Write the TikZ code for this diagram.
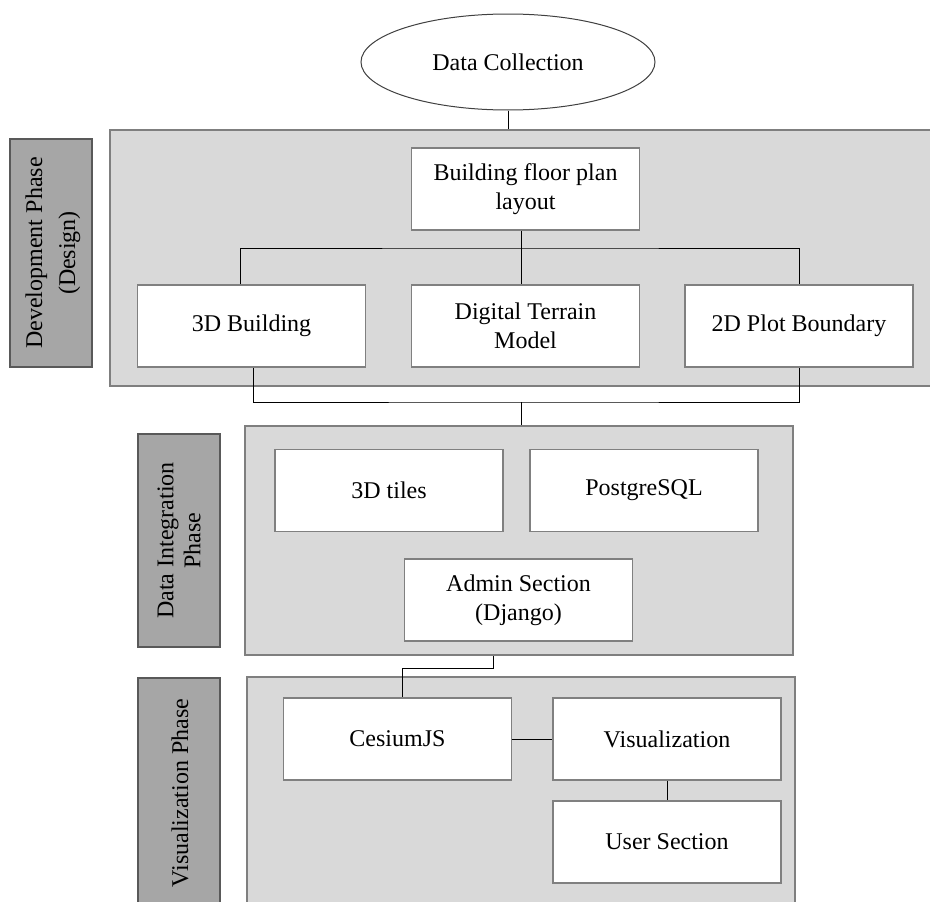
\documentclass[tikz,border=0pt]{standalone}
\usepackage{fontspec}
\setmainfont{Liberation Serif}
\usetikzlibrary{shapes.geometric}
\definecolor{panelfill}{HTML}{D9D9D9}
\definecolor{panelline}{HTML}{7F7F7F}
\definecolor{labfill}{HTML}{A6A6A6}
\definecolor{labline}{HTML}{595959}
\definecolor{boxline}{HTML}{808080}
\tikzset{
  panel/.style={draw=panelline, fill=panelfill, line width=2pt, inner sep=0pt},
  phaselab/.style={draw=labline, fill=labfill, line width=1.5pt, inner sep=0pt},
  labtext/.style={rotate=90, align=center, font=\fontsize{24}{33}\selectfont, inner sep=0pt},
  box/.style={draw=boxline, fill=white, line width=1.5pt, align=center,
    minimum width=228pt, minimum height=82pt, inner sep=0pt,
    font=\fontsize{24}{29}\selectfont},
  conn/.style={draw=black, line width=1pt},
}
\begin{document}
\begin{tikzpicture}[x=1pt,y=-1pt]
\useasboundingbox (0,0) rectangle (930,902);
\clip (0,0) rectangle (930,902);
\fill[white] (0,0) rectangle (930,902);

% panels
\node[panel, minimum width=830pt, minimum height=256pt] (devp) at (525,258) {};
\node[panel, minimum width=548pt, minimum height=229pt] (dip) at (519,540.5) {};
\node[panel, minimum width=548pt, minimum height=260pt] (visp) at (521,807) {};

% phase labels
\node[phaselab, minimum width=82pt, minimum height=228pt] (devlab) at (51,253) {};
\node[labtext] (devtxt) at (53,253) {Development Phase\\(Design)};
\node[phaselab, minimum width=82pt, minimum height=213pt] (dilab) at (179,540.5) {};
\node[labtext, font=\fontsize{24}{27}\selectfont] (ditxt) at (179,540.5) {Data Integration\\Phase};
\node[phaselab, minimum width=82pt, minimum height=250pt] (vislab) at (179,803) {};
\node[labtext] (vistxt) at (180,793) {Visualization Phase};

% ellipse
\node[ellipse, draw=black!75, line width=1pt, fill=white, minimum width=294pt, minimum height=96pt,
  inner sep=0pt, font=\fontsize{24}{29}\selectfont] (dc) at (508,62) {Data Collection};

% development boxes
\node[box] (bfp) at (525.5,189) {Building floor plan\\layout};
\node[box] (b3d) at (251.5,326) {3D Building};
\node[box] (dtm) at (525.5,326) {Digital Terrain\\Model};
\node[box] (p2d) at (799,326) {2D Plot Boundary};

% data integration boxes
\node[box] (t3d) at (389,490.5) {3D tiles};
\node[box] (pg) at (644,490.5) {PostgreSQL};
\node[box] (adm) at (518.5,600) {Admin Section\\(Django)};

% visualization boxes
\node[box] (ces) at (397.5,739) {CesiumJS};
\node[box] (vis) at (667,739) {Visualization};
\node[box] (us) at (667,842) {User Section};

% connectors
\coordinate (jt) at (521,248);
\coordinate (jb) at (521,402);
\coordinate (jd) at (493,668);
\draw[conn] (dc.south) -- (dc.south |- devp.north);
\draw[conn] ([xshift=-4.5pt]bfp.south) -- ([xshift=-4.5pt]dtm.north);
\draw[conn] ([xshift=-11.5pt]b3d.north) |- (jt) -| (p2d.north);
\draw[conn] ([xshift=1.5pt]b3d.south) |- (jb) -| (p2d.south);
\draw[conn] (jb) -- (jb |- dip.north);
\draw[conn] (jd |- dip.south) -- (jd) -| ([xshift=4.5pt]ces.north);
\draw[conn] (ces.east) -- (vis.west);
\draw[conn] (vis.south) -- (us.north);
\end{tikzpicture}
\end{document}
